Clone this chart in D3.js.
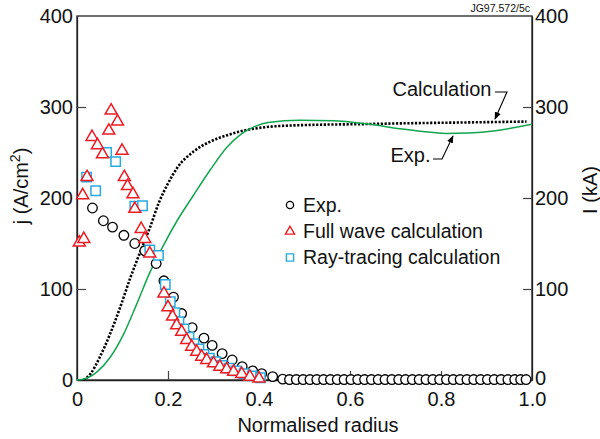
<!DOCTYPE html>
<html><head><meta charset="utf-8">
<script src="https://cdn.jsdelivr.net/npm/d3@7"></script>
<style>
body{margin:0;background:#fff;}
text{font-family:"Liberation Sans",Arial,Helvetica,sans-serif;fill:#111;}
</style></head>
<body>
<svg id="c" width="600" height="439"></svg>
<script>
// ---------- data ----------
const xTicks = [0, 0.2, 0.4, 0.6, 0.8, 1.0];
const xTickLabels = ["0", "0.2", "0.4", "0.6", "0.8", "1.0"];
const yTicks = [0, 100, 200, 300, 400];

// Exp. current density (circles)
const expX = [0.034,0.058,0.078,0.103,0.127,0.149,0.174,0.191,0.212,0.230,0.253,0.279,0.297,0.319,0.341,0.363,0.386,0.406,0.430,
  0.452,0.467,0.482,0.497,0.512,0.527,0.542,0.557,0.572,0.587,0.602,0.617,0.632,0.647,0.662,0.677,0.692,0.707,0.722,0.737,
  0.752,0.767,0.782,0.797,0.812,0.827,0.842,0.857,0.872,0.887,0.902,0.917,0.932,0.947,0.962,0.975,0.987];
const expJ = [189,175,168,159,150,142,128,109,91,73,57.5,46,38,29,22,14.6,10,7,3.7,
  1,0.5,0.5,0.5,0.5,0.5,0.5,0.5,0.5,0.5,0.5,0.5,0.5,0.5,0.5,0.5,0.5,0.5,0.5,0.5,
  0.5,0.5,0.5,0.5,0.5,0.5,0.5,0.5,0.5,0.5,0.5,0.5,0.5,0.5,0.5,0.5,0.5];

// Full wave calculation (triangles)
const fwX = [0.005,0.015,0.0125,0.022,0.033,0.045,0.056,0.070,0.075,0.089,0.099,0.104,0.111,0.123,0.127,0.141,0.149,0.160,
  0.191,0.200,0.210,0.219,0.230,0.241,0.252,0.263,0.274,0.285,0.300,0.314,0.329,0.344,0.362,0.380,0.400];
const fwJ = [151,155,203,223,267,258,248,274,296,284,252,223,213,204,188,166,155,139,
  95,80,69.6,60,53,44,36.6,31,25.6,22,18.3,14.6,11.7,9,6.6,3.6,1.5];

// Ray-tracing calculation (squares)
const rtX = [0.021,0.041,0.065,0.085,0.127,0.144,0.160,0.179,0.194,
  0.205,0.215,0.224,0.235,0.246,0.257,0.268,0.279,0.291,0.305,0.319,0.334,0.349,0.367,0.385,0.403];
const rtJ = [223,208,250,240,191,191.5,143,137,105,
  86,74,64,56,47,40,34,28,24,20,16,13,10,7,4.5,2.5];

// Total current I (kA), right axis
const calcX = [0.015,0.030,0.050,0.073,0.095,0.117,0.140,0.160,0.180,0.200,0.220,0.256,0.293,0.330,0.366,0.417,0.490,0.640,0.710,0.850,0.988];
const calcI = [0,7,25,51,80,112,142,167,195,216,233,251,262,269,274,278,280,281.3,282,283,284];
const expIX = [0,0.015,0.044,0.073,0.103,0.130,0.160,0.190,0.220,0.256,0.293,0.330,0.360,0.390,0.420,0.490,0.563,0.637,0.710,0.760,0.810,0.860,0.920,1.0];
const expI  = [0,1,9,25,51,82,118,148,175,203,231,256,270,278.5,283,285.5,285,281.5,276,273,271,271.5,274,281];

const legendLabels = ["Exp.", "Full wave calculation", "Ray-tracing calculation"];

// ---------- layout ----------
const svg = d3.select("#c");
const L = 77, R = 532, T = 16, B = 380;
const x = d3.scaleLinear().domain([0,1]).range([L,R]);
const y = d3.scaleLinear().domain([0,400]).range([B,T]);
const yR = d3.scaleLinear().domain([0,400]).range([B,T]);

const RED = "#ec1c24", CYAN = "#27aae1", GREEN = "#12a54f";

// frame
svg.append("rect").attr("x",L).attr("y",T).attr("width",R-L).attr("height",B-T)
  .attr("fill","none").attr("stroke","#222").attr("stroke-width",1.3);

// axes with inward ticks
const gx = svg.append("g").attr("transform",`translate(0,${B})`)
  .call(d3.axisBottom(x).tickValues(xTicks).tickFormat((d,i)=>xTickLabels[i]).tickSizeInner(-9).tickSizeOuter(0).tickPadding(12));
const gy = svg.append("g").attr("transform",`translate(${L},0)`)
  .call(d3.axisLeft(y).tickValues(yTicks).tickSizeInner(-9).tickSizeOuter(0).tickPadding(4));
const gr = svg.append("g").attr("transform",`translate(${R},0)`)
  .call(d3.axisRight(yR).tickValues(yTicks).tickSizeInner(-9).tickSizeOuter(0).tickPadding(3));
[gx,gy,gr].forEach(g=>{
  g.select(".domain").attr("stroke","#222").attr("stroke-width",1.3);
  g.selectAll(".tick line").attr("stroke","#444").attr("stroke-width",1.2);
  g.selectAll(".tick text").attr("font-size",20).attr("font-family","Liberation Sans, Arial, sans-serif").attr("fill","#111");
});
gx.selectAll(".tick").filter(d=>d===0||d===1).select("line").remove();
gy.selectAll(".tick").filter(d=>d===0||d===400).select("line").remove();
gr.selectAll(".tick").filter(d=>d===0||d===400).select("line").remove();
// nudge right-axis zero label up a little so it clears the "1.0" label
gr.selectAll(".tick").filter(d=>d===0).select("text").attr("dy","0.2em");

// axis titles
svg.append("text").attr("x",318).attr("y",432).attr("text-anchor","middle").attr("font-size",20).text("Normalised radius");
const jl = svg.append("text").attr("transform","translate(28,186) rotate(-90)").attr("text-anchor","middle").attr("font-size",20);
jl.append("tspan").text("j (A/cm");
jl.append("tspan").attr("font-size",14).attr("dy",-8).text("2");
jl.append("tspan").attr("dy",8).text(")");
svg.append("text").attr("transform","translate(597,190) rotate(-90)").attr("text-anchor","middle").attr("font-size",20).text("I (kA)");
svg.append("text").attr("x",530).attr("y",11.5).attr("text-anchor","end").attr("font-size",10.5).text("JG97.572/5c");

// lines
const lineC = d3.line().x((d,i)=>x(calcX[i])).y(d=>yR(d)).curve(d3.curveMonotoneX);
svg.append("path").attr("d",lineC(calcI)).attr("fill","none").attr("stroke","#000")
  .attr("stroke-width",2.6).attr("stroke-dasharray","2.2,1.6");
const lineE = d3.line().x((d,i)=>x(expIX[i])).y(d=>yR(d)).curve(d3.curveMonotoneX);
svg.append("path").attr("d",lineE(expI)).attr("fill","none").attr("stroke",GREEN).attr("stroke-width",1.5);

// markers
svg.append("g").selectAll("circle").data(expJ).join("circle")
  .attr("cx",(d,i)=>x(expX[i])).attr("cy",d=>y(d)).attr("r",4.8)
  .attr("fill","#fff").attr("stroke","#000").attr("stroke-width",1.3);
const sq = d3.symbol().type(d3.symbolSquare).size(88);
svg.append("g").selectAll("path").data(rtJ).join("path")
  .attr("d",sq).attr("transform",(d,i)=>`translate(${x(rtX[i])},${y(d)})`)
  .attr("fill","#fff").attr("stroke",CYAN).attr("stroke-width",1.5);
const tri = d3.symbol().type(d3.symbolTriangle).size(62);
svg.append("g").selectAll("path").data(fwJ).join("path")
  .attr("d",tri).attr("transform",(d,i)=>`translate(${x(fwX[i])},${y(d)})`)
  .attr("fill","#fff").attr("stroke",RED).attr("stroke-width",1.5);

// legend
const lg = svg.append("g");
const ly = [205, 231.5, 257.5];
lg.append("circle").attr("cx",290).attr("cy",ly[0]).attr("r",3.6).attr("fill","#fff").attr("stroke","#000").attr("stroke-width",1.3);
lg.append("path").attr("d",d3.symbol().type(d3.symbolTriangle).size(36)).attr("transform",`translate(290,${ly[1]})`)
  .attr("fill","#fff").attr("stroke",RED).attr("stroke-width",1.4);
lg.append("path").attr("d",d3.symbol().type(d3.symbolSquare).size(52)).attr("transform",`translate(290,${ly[2]})`)
  .attr("fill","#fff").attr("stroke",CYAN).attr("stroke-width",1.4);
legendLabels.forEach((t,i)=>{
  lg.append("text").attr("x",303).attr("y",ly[i]+6.5).attr("font-size",19.5).text(t);
});

// annotations
svg.append("defs").append("marker").attr("id","ah").attr("viewBox","0 0 10 10").attr("refX",9).attr("refY",5)
  .attr("markerWidth",7).attr("markerHeight",7).attr("orient","auto")
  .append("path").attr("d","M0,1 L10,5 L0,9 Z").attr("fill","#000");
svg.append("text").attr("x",392.5).attr("y",96).attr("font-size",20).text("Calculation");
svg.append("path").attr("d","M495,92 L507,92 L495,119").attr("fill","none").attr("stroke","#000").attr("stroke-width",1.1).attr("marker-end","url(#ah)");
svg.append("text").attr("x",390.5).attr("y",162).attr("font-size",20).text("Exp.");
svg.append("path").attr("d","M433,159 L442,159 L453,136").attr("fill","none").attr("stroke","#000").attr("stroke-width",1.1).attr("marker-end","url(#ah)");
</script>
</body></html>
